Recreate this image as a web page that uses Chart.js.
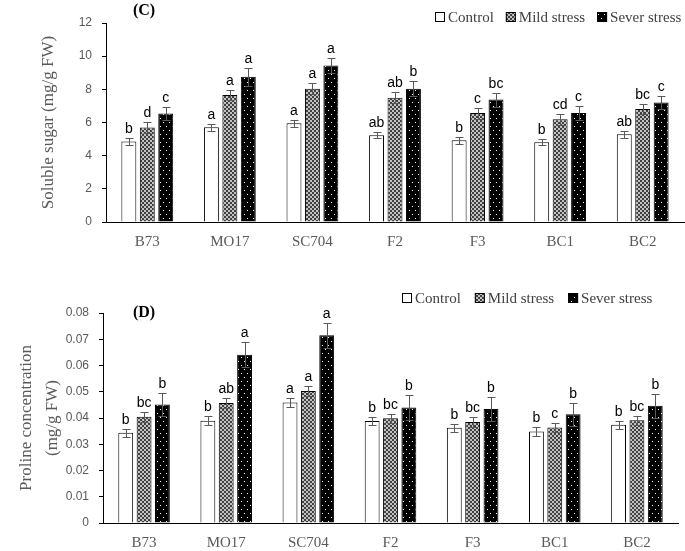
<!DOCTYPE html>
<html lang="en">
<head>
<meta charset="UTF-8">
<title>Soluble sugar and proline concentration</title>
<script src="https://cdn.jsdelivr.net/npm/chart.js"></script>
<style>
  body { margin: 0; background: #fff; }
  canvas { position: absolute; left: 0; }
  #sugarChart { top: 0; }
  #prolineChart { top: 275px; }
</style>
</head>
<body>
<canvas id="sugarChart" width="685" height="275"></canvas>
<canvas id="prolineChart" width="685" height="276"></canvas>
<script>
// Genotypes and treatments
const genotypes = ['B73', 'MO17', 'SC704', 'F2', 'F3', 'BC1', 'BC2'];
const treatments = ['Control', 'Mild stress', 'Sever stress'];

// (C) soluble sugar, mg/g FW
const sugarControl = [4.85, 5.71, 5.95, 5.23, 4.93, 4.81, 5.29];
const sugarMild    = [5.70, 7.66, 8.04, 7.50, 6.57, 6.19, 6.82];
const sugarSevere  = [6.55, 8.76, 9.43, 8.04, 7.38, 6.57, 7.20];
const sugarControlErr = [0.22, 0.21, 0.23, 0.18, 0.21, 0.19, 0.20];
const sugarMildErr    = [0.33, 0.32, 0.32, 0.33, 0.33, 0.33, 0.30];
const sugarSevereErr  = [0.37, 0.55, 0.45, 0.45, 0.42, 0.42, 0.40];
const sugarControlLet = ['b', 'a', 'a', 'ab', 'b', 'b', 'ab'];
const sugarMildLet    = ['d', 'a', 'a', 'ab', 'c', 'cd', 'bc'];
const sugarSevereLet  = ['c', 'a', 'a', 'b', 'bc', 'c', 'c'];
const sugarTicks = [0, 2, 4, 6, 8, 10, 12];

// (D) proline, mg/g FW
const prolineControl = [0.0344, 0.0390, 0.0459, 0.0389, 0.0363, 0.0349, 0.0374];
const prolineMild    = [0.0405, 0.0457, 0.0503, 0.0399, 0.0385, 0.0364, 0.0391];
const prolineSevere  = [0.0451, 0.0641, 0.0715, 0.0440, 0.0434, 0.0414, 0.0447];
const prolineControlErr = [0.0016, 0.0016, 0.0017, 0.0016, 0.0015, 0.0016, 0.0015];
const prolineMildErr    = [0.0019, 0.0019, 0.0019, 0.0018, 0.0019, 0.0018, 0.0018];
const prolineSevereErr  = [0.0044, 0.0047, 0.0047, 0.0046, 0.0046, 0.0044, 0.0046];
const prolineControlLet = ['b', 'b', 'a', 'b', 'b', 'b', 'b'];
const prolineMildLet    = ['bc', 'ab', 'a', 'bc', 'bc', 'c', 'bc'];
const prolineSevereLet  = ['b', 'a', 'a', 'b', 'b', 'b', 'b'];
const prolineTicks = [0, 0.01, 0.02, 0.03, 0.04, 0.05, 0.06, 0.07, 0.08];

const GREY = '#595959';

// small repeating fills for the hatched bars
function makePattern(w, h, bg, fg, dots) {
  const c = document.createElement('canvas');
  c.width = w; c.height = h;
  const g = c.getContext('2d');
  g.fillStyle = bg;
  g.fillRect(0, 0, w, h);
  g.fillStyle = fg;
  dots.forEach(d => g.fillRect(d[0], d[1], d[2], d[2]));
  return g.createPattern(c, 'repeat');
}
const mildFill = makePattern(4, 4, '#c2c2c2', '#404040', [[0, 0, 2], [2, 2, 2]]);
const severFill = makePattern(6, 8, '#000000', '#ffffff', [[1, 2, 1], [4, 6, 1]]);
const fills = ['#ffffff', mildFill, severFill];

// error bars + significance letters
function annotations(errors, letters) {
  return {
    id: 'annotations',
    afterDatasetsDraw(chart) {
      const ctx = chart.ctx;
      const y = chart.scales.y;
      ctx.save();
      chart.data.datasets.forEach((ds, i) => {
        chart.getDatasetMeta(i).data.forEach((bar, j) => {
          const v = ds.data[j], e = errors[i][j];
          const x = Math.round(bar.x) + 0.5;
          const top = Math.round(y.getPixelForValue(v + e)) + 0.5;
          const bot = Math.round(y.getPixelForValue(v - e)) + 0.5;
          ctx.strokeStyle = GREY;
          ctx.lineWidth = 1;
          ctx.beginPath();
          ctx.moveTo(x, top); ctx.lineTo(x, bot);
          ctx.moveTo(x - 4, top); ctx.lineTo(x + 4, top);
          ctx.moveTo(x - 4, bot); ctx.lineTo(x + 4, bot);
          ctx.stroke();
          ctx.fillStyle = '#000';
          ctx.font = '14px "Liberation Sans"';
          ctx.textAlign = 'center';
          ctx.textBaseline = 'bottom';
          ctx.fillText(letters[i][j], bar.x, top - 2);
        });
      });
      ctx.restore();
    }
  };
}

// panel label and legend drawn at fixed spots above the plot
function header(label, labelY, legendX, legendY, gap) {
  return {
    id: 'header',
    afterDraw(chart) {
      const ctx = chart.ctx;
      ctx.save();
      ctx.fillStyle = '#000';
      ctx.font = 'bold 16px "Liberation Serif"';
      ctx.textAlign = 'center';
      ctx.textBaseline = 'middle';
      ctx.fillText(label, 144, labelY);

      ctx.font = '15px "Liberation Serif"';
      ctx.textAlign = 'left';
      let x = legendX;
      chart.data.datasets.forEach(ds => {
        ctx.fillStyle = ds.backgroundColor;
        ctx.fillRect(x, legendY - 5, 10, 10);
        ctx.strokeStyle = '#000';
        ctx.lineWidth = 1;
        ctx.strokeRect(x + 0.5, legendY - 4.5, 9, 9);
        ctx.fillStyle = '#404040';
        ctx.fillText(ds.label, x + 13, legendY + 1);
        x += 13 + ctx.measureText(ds.label).width + gap;
      });
      ctx.restore();
    }
  };
}

function makeChart(id, series, errors, letters, ticks, title, titlePad, lineHeight, box, hdr) {
  return new Chart(document.getElementById(id), {
    type: 'bar',
    data: {
      labels: genotypes,
      datasets: series.map((d, i) => ({
        label: treatments[i],
        data: d,
        backgroundColor: fills[i],
        borderColor: '#000',
        borderWidth: 1,
        categoryPercentage: 0.67,
        barPercentage: 0.81
      }))
    },
    options: {
      responsive: false,
      animation: false,
      layout: { padding: { left: 0, top: box.top, right: box.right, bottom: 0 } },
      plugins: { legend: { display: false }, tooltip: { enabled: false } },
      scales: {
        x: {
          grid: { display: false, drawTicks: false },
          border: { display: true, color: '#000' },
          ticks: { color: GREY, padding: 11, font: { family: 'Liberation Serif', size: 15 } },
          afterFit(s) { s.height = box.xh; }
        },
        y: {
          min: ticks[0],
          max: ticks[ticks.length - 1],
          afterBuildTicks(s) { s.ticks = ticks.map(v => ({ value: v })); },
          grid: { drawOnChartArea: false, drawTicks: true, tickLength: 4, color: '#000' },
          border: { display: true, color: '#000' },
          ticks: {
            color: GREY,
            padding: 10,
            font: { family: 'Liberation Sans', size: 12 },
            callback: v => (v === 0 ? '0' : (ticks[1] < 1 ? v.toFixed(2) : String(v)))
          },
          title: {
            display: true,
            text: title,
            color: GREY,
            padding: { top: titlePad, bottom: 0 },
            font: { family: 'Liberation Serif', size: 17, lineHeight: lineHeight }
          },
          afterFit(s) { s.width = box.yw; }
        }
      }
    },
    plugins: [annotations(errors, letters), header(hdr.label, hdr.labelY, hdr.legendX, hdr.legendY, hdr.gap)]
  });
}

makeChart('sugarChart',
  [sugarControl, sugarMild, sugarSevere],
  [sugarControlErr, sugarMildErr, sugarSevereErr],
  [sugarControlLet, sugarMildLet, sugarSevereLet],
  sugarTicks, 'Soluble sugar (mg/g FW)', 38, 1.2,
  { top: 23, right: 1, xh: 53, yw: 106 },
  { label: '(C)', labelY: 11, legendX: 435, legendY: 17, gap: 12 });

makeChart('prolineChart',
  [prolineControl, prolineMild, prolineSevere],
  [prolineControlErr, prolineMildErr, prolineSevereErr],
  [prolineControlLet, prolineMildLet, prolineSevereLet],
  prolineTicks, ['Proline concentration', '(mg/g FW)'], 14, 1.53,
  { top: 38, right: 7, xh: 28, yw: 103 },
  { label: '(D)', labelY: 38, legendX: 402, legendY: 23, gap: 14 });
</script>
</body>
</html>
